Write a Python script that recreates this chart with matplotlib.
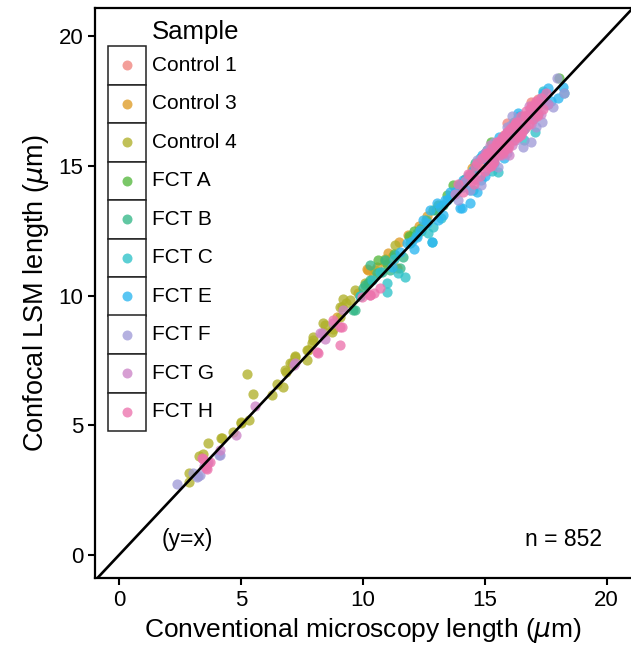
import matplotlib
matplotlib.use("Agg")
import matplotlib.pyplot as plt
from matplotlib.patches import Rectangle
from matplotlib.lines import Line2D

plt.rcParams['font.family'] = ['Liberation Sans', 'DejaVu Sans']

samples = ["Control 1", "Control 3", "Control 4", "FCT A", "FCT B",
           "FCT C", "FCT E", "FCT F", "FCT G", "FCT H"]
colours = ["#F0847E", "#DE9C25", "#B0B02A", "#55B83E", "#35B888",
           "#2EC2C8", "#2BB6F0", "#A09BD8", "#CC84C7", "#EC73AD"]

# (conventional, confocal) pairs
control1 = [(14.9, 15.1), (15.2, 15.6), (15.4, 15.3), (15.6, 15.9), (15.8, 16.2),
            (15.9, 15.7), (16.1, 16.4), (16.3, 16.1), (16.5, 16.8), (16.7, 16.5),
            (16.88, 17.46), (17.17, 17.57), (15.5, 15.8), (16.0, 16.3), (15.93, 16.65),
            (16.9, 17.1), (17.2, 17.3), (14.6, 14.9), (16.6, 16.9)]
control3 = [(8.95, 9.17), (10.18, 11.02), (10.23, 10.98), (10.6, 11.1), (11.05, 11.64),
            (11.42, 11.06), (11.5, 12.06), (11.87, 12.33), (12.65, 13.06), (10.4, 10.7),
            (11.2, 11.5), (12.0, 12.2), (14.5, 14.91), (9.8, 10.1), (10.9, 11.3), (12.3, 12.7)]
control4 = [(2.87, 3.16), (2.87, 2.81), (3.29, 3.82), (3.45, 3.89), (3.65, 4.32),
            (4.19, 4.51), (4.23, 4.5), (4.68, 4.74), (5.0, 5.09), (5.01, 5.13),
            (5.34, 5.2), (5.26, 6.97), (5.5, 6.2), (6.28, 6.17), (6.49, 6.59),
            (6.73, 6.47), (6.82, 7.13), (6.86, 7.05), (7.02, 7.4), (7.1, 7.4),
            (7.23, 7.67), (7.23, 7.63), (7.72, 7.51), (7.72, 7.9), (7.76, 7.9),
            (7.93, 8.17), (7.97, 8.4), (7.97, 8.29), (8.38, 8.94), (8.42, 8.59),
            (8.46, 8.86), (8.75, 8.6), (8.79, 8.71), (9.08, 9.17), (9.08, 9.56),
            (9.16, 9.56), (9.2, 9.87), (9.32, 9.71), (9.49, 9.83), (9.7, 10.2),
            (10.1, 10.5), (10.5, 11.0), (11.33, 11.95), (11.95, 12.25), (10.9, 11.4)]
fct_a = [(10.64, 11.37), (11.3, 11.6), (11.9, 12.3), (12.4, 12.6), (12.9, 13.3),
         (13.47, 13.87), (13.72, 14.26), (14.2, 14.5), (15.24, 15.92), (18.03, 18.38),
         (11.0, 11.2), (12.1, 12.5), (13.1, 13.5), (10.2, 10.5)]
fct_b = [(9.61, 9.44), (9.69, 9.44), (10.02, 10.29), (10.1, 10.4), (10.31, 11.18),
         (10.31, 10.6), (10.6, 10.87), (10.92, 11.37), (11.33, 11.56), (11.54, 11.06),
         (11.66, 11.48), (11.95, 12.02), (12.24, 12.41), (12.6, 12.9), (13.0, 13.3),
         (10.8, 10.9), (11.1, 11.0), (12.4, 12.5), (13.3, 13.5), (14.0, 14.3),
         (15.1, 15.6), (9.9, 10.0), (14.6, 15.1), (16.2, 16.7)]
fct_c = [(10.39, 10.6), (11.01, 10.13), (11.01, 10.48), (11.46, 10.87), (11.74, 10.71),
         (12.69, 12.41), (12.85, 12.06), (12.9, 12.64), (13.59, 13.8), (14.54, 14.07),
         (15.56, 14.76), (16.35, 16.88), (17.08, 16.3), (11.3, 11.4), (12.2, 12.3),
         (13.2, 13.0), (14.1, 14.3), (15.0, 15.3), (16.0, 16.1), (17.6, 17.4),
         (18.27, 17.8), (9.9, 10.0), (10.7, 10.9), (15.3, 14.8), (16.6, 16.0),
         (14.8, 15.3), (17.4, 17.9)]
fct_e = [(11.54, 11.68), (11.83, 12.02), (12.24, 12.25), (12.36, 12.52), (12.48, 12.91),
         (12.65, 12.79), (12.77, 13.29), (12.85, 12.06), (13.06, 13.56), (13.1, 12.91),
         (13.18, 13.41), (13.39, 13.68), (13.47, 13.68), (13.59, 13.99), (13.88, 14.07),
         (14.0, 14.26), (14.0, 13.37), (14.09, 13.37), (14.13, 14.18), (14.13, 14.45),
         (14.41, 13.56), (14.41, 14.07), (14.54, 14.83), (14.7, 13.99), (14.83, 14.45),
         (15.03, 15.5), (15.11, 15.22), (15.36, 15.22), (15.7, 15.5), (16.0, 16.2),
         (16.35, 17.03), (16.6, 16.4), (16.9, 17.0), (17.2, 17.0), (17.41, 17.8),
         (17.7, 17.5), (18.23, 18.03), (18.0, 17.6), (11.2, 11.1), (12.0, 12.1),
         (13.8, 14.0), (15.4, 15.1), (16.2, 16.5), (17.0, 16.8), (14.3, 14.6),
         (14.9, 15.4), (15.6, 16.1), (16.4, 16.9), (17.6, 18.0), (15.0, 14.6),
         (15.8, 15.3), (13.3, 13.1), (12.1, 11.8)]
fct_f = [(2.38, 2.74), (3.04, 3.16), (3.2, 3.0), (3.24, 3.04), (3.33, 3.08),
         (4.11, 3.85), (4.15, 3.85), (3.6, 3.5), (14.41, 14.07), (14.7, 15.22),
         (14.83, 14.26), (15.11, 15.61), (15.24, 15.22), (15.56, 14.95), (15.65, 15.6),
         (15.93, 16.49), (16.06, 16.57), (16.47, 16.38), (16.59, 15.72), (16.88, 15.92),
         (16.88, 17.15), (17.29, 17.61), (17.37, 16.69), (17.5, 17.34), (17.82, 17.26),
         (17.95, 18.38), (18.27, 17.8), (13.9, 13.7), (15.9, 15.5), (16.3, 16.0),
         (16.1, 16.9), (15.4, 15.9), (17.1, 16.5)]
fct_g = [(3.66, 3.58), (4.15, 4.05), (4.8, 4.62), (5.59, 5.74), (7.19, 7.32),
         (7.23, 7.4), (8.25, 8.55), (8.34, 8.55), (8.46, 8.32), (8.79, 8.94),
         (9.2, 9.44), (3.5, 3.45), (14.2, 14.4), (14.6, 14.5), (14.9, 15.3),
         (15.1, 14.9), (15.3, 15.6), (15.5, 15.9), (15.7, 15.4), (15.9, 16.3),
         (16.1, 15.8), (16.3, 16.6), (16.5, 16.2), (16.7, 16.9), (16.9, 16.6),
         (17.1, 17.3), (17.3, 17.0), (15.0, 15.5), (15.8, 16.1), (16.4, 16.7),
         (13.8, 13.9), (17.6, 17.4), (15.2, 15.8), (16.0, 15.4), (16.8, 17.3)]
fct_h = [(3.41, 3.74), (3.45, 3.7), (3.57, 3.35), (3.61, 3.31), (3.74, 3.58),
         (8.13, 7.82), (8.17, 7.78), (8.79, 9.06), (9.08, 8.09), (9.08, 8.79),
         (9.16, 8.79), (9.98, 9.94), (10.3, 10.02), (10.31, 10.02), (10.47, 10.1),
         (10.72, 10.29), (13.9, 14.3), (14.1, 14.0), (14.3, 14.7), (14.5, 14.4),
         (14.6, 15.0), (14.8, 14.6), (14.9, 15.3), (15.0, 14.8), (15.1, 15.5),
         (15.2, 15.0), (15.3, 15.7), (15.4, 15.2), (15.5, 15.9), (15.6, 15.4),
         (15.7, 16.1), (15.8, 15.6), (15.9, 16.3), (16.0, 15.8), (16.1, 16.5),
         (16.2, 16.0), (16.3, 16.7), (16.4, 16.2), (16.5, 16.9), (16.6, 16.4),
         (16.7, 17.1), (16.8, 16.6), (16.9, 17.3), (17.0, 16.8), (17.1, 17.5),
         (17.2, 17.0), (17.3, 17.6), (17.4, 17.2), (17.5, 17.8), (15.05, 15.4),
         (15.35, 15.1), (15.65, 16.0), (15.95, 15.7), (16.25, 16.6), (16.55, 16.3),
         (16.85, 17.2), (17.15, 16.9), (14.7, 15.1), (15.45, 15.8), (15.75, 15.5),
         (16.05, 16.4), (16.35, 16.1), (16.65, 16.9), (14.4, 14.7), (15.25, 15.0),
         (15.85, 16.2), (16.45, 16.2), (17.05, 17.4), (14.55, 14.3), (15.15, 15.5)]
groups = [control1, control3, control4, fct_a, fct_b, fct_c, fct_e, fct_f, fct_g, fct_h]

fig = plt.figure(figsize=(6.31, 6.55), dpi=100)
W, H = 631.0, 655.0
ax = fig.add_axes([95 / W, 1 - 578 / H, 1 - 95 / W, (578 - 8) / H])

for pts, col in zip(groups, colours):
    xs = [p[0] for p in pts]
    ys = [p[1] for p in pts]
    ax.scatter(xs, ys, s=54, color=col, alpha=0.78, linewidths=0, zorder=2)

ax.plot([-5, 25], [-5, 25], color='black', lw=1.9, zorder=3)

ax.set_xlim(-0.98, 21.0)
ax.set_ylim(-0.88, 21.08)
ax.set_xticks([0, 5, 10, 15, 20])
ax.set_yticks([0, 5, 10, 15, 20])
ax.tick_params(labelsize=16, width=1.5, length=5, color='black')
for side in ['left', 'bottom', 'top']:
    ax.spines[side].set_linewidth(1.6)
ax.spines['right'].set_visible(False)
ax.set_xlabel(r'Conventional microscopy length ($\mu$m)', fontsize=19, labelpad=4)
ax.set_ylabel(r'Confocal LSM length ($\mu$m)', fontsize=19.5, labelpad=5)

ax.text(2.8, 0.6, '(y=x)', fontsize=16.5, ha='center', va='center')
ax.text(18.25, 0.6, 'n = 852', fontsize=16.5, ha='center', va='center')

# legend drawn by hand (ggplot style key boxes)
key_x, key_w, key_top, key_h = 108, 38, 46, 38.5
fig.text(152 / W, 1 - 32 / H, 'Sample', fontsize=18.5, ha='left', va='center')
for i, (name, col) in enumerate(zip(samples, colours)):
    top = key_top + i * key_h
    fig.add_artist(Rectangle((key_x / W, 1 - (top + key_h) / H), key_w / W, key_h / H,
                             transform=fig.transFigure, facecolor='white',
                             edgecolor='#222222', lw=1.1, zorder=5))
    cy = 1 - (top + key_h / 2) / H
    fig.add_artist(Line2D([(key_x + key_w / 2) / W], [cy], marker='o', ms=7.2,
                          color=col, alpha=0.78, mew=0, transform=fig.transFigure,
                          zorder=6))
    fig.text(152 / W, cy, name, fontsize=15, ha='left', va='center', zorder=6)

fig.savefig('out.png', dpi=100)
